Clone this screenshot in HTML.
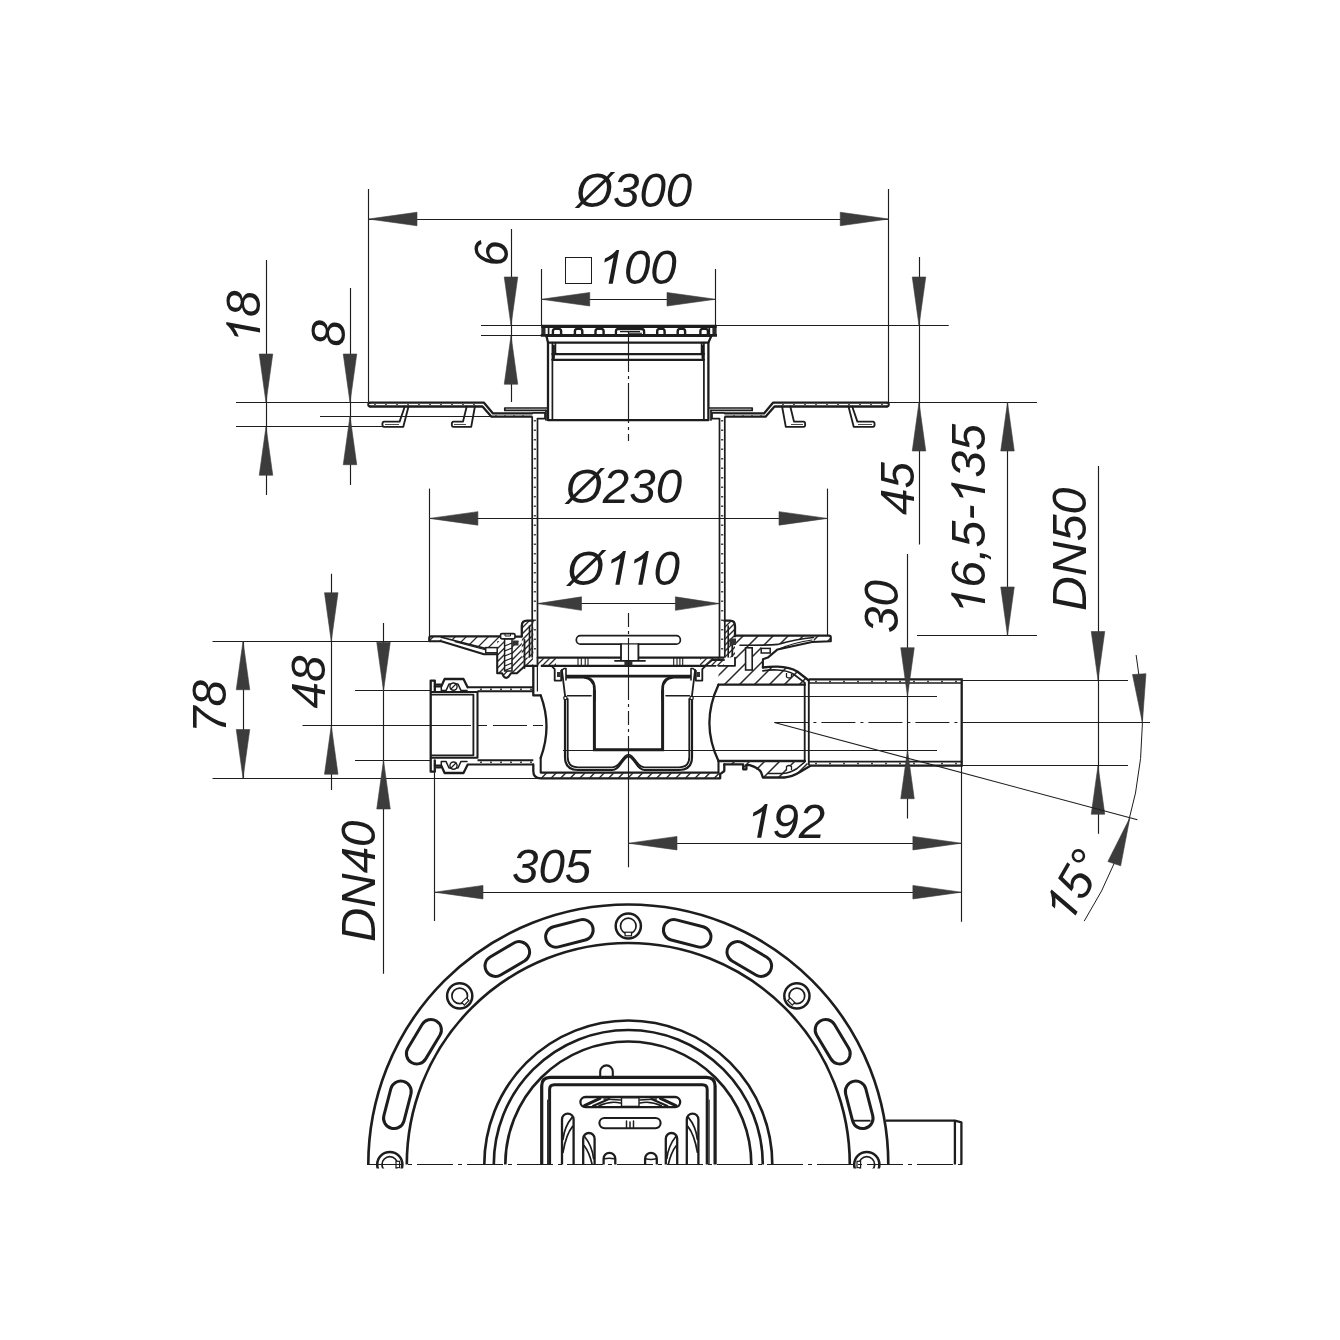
<!DOCTYPE html>
<html><head><meta charset="utf-8"><title>Drain drawing</title>
<style>
html,body{margin:0;padding:0;background:#fff;}
body{width:1340px;height:1340px;overflow:hidden;}
svg{display:block;font-family:"Liberation Sans",sans-serif;}
</style></head><body>
<svg width="1340" height="1340" viewBox="0 0 1340 1340">
<rect width="1340" height="1340" fill="#fff"/>
<path d="M552.9,335 V331.2 Q552.9,328.9 555.2,328.9 H558.8 Q561.1,328.9 561.1,331.2 V335" stroke="#1d1d1d" stroke-width="2.42" fill="none" stroke-linejoin="round" stroke-linecap="butt" />
<path d="M574.9,335 V331.2 Q574.9,328.9 577.2,328.9 H580.0 Q582.3000000000001,328.9 582.3000000000001,331.2 V335" stroke="#1d1d1d" stroke-width="2.42" fill="none" stroke-linejoin="round" stroke-linecap="butt" />
<path d="M595.5,335 V331.2 Q595.5,328.9 597.8000000000001,328.9 H601.3 Q603.6,328.9 603.6,331.2 V335" stroke="#1d1d1d" stroke-width="2.42" fill="none" stroke-linejoin="round" stroke-linecap="butt" />
<path d="M657.1999999999999,335 V331.2 Q657.1999999999999,328.9 659.5,328.9 H662.3 Q664.6,328.9 664.6,331.2 V335" stroke="#1d1d1d" stroke-width="2.42" fill="none" stroke-linejoin="round" stroke-linecap="butt" />
<path d="M677.6999999999999,335 V331.2 Q677.6999999999999,328.9 680.0,328.9 H682.8 Q685.1,328.9 685.1,331.2 V335" stroke="#1d1d1d" stroke-width="2.42" fill="none" stroke-linejoin="round" stroke-linecap="butt" />
<path d="M700.4,335 V331.2 Q700.4,328.9 702.7,328.9 H705.5999999999999 Q707.9,328.9 707.9,331.2 V335" stroke="#1d1d1d" stroke-width="2.42" fill="none" stroke-linejoin="round" stroke-linecap="butt" />
<path d="M615.9,335 V331.4 Q615.9,329 618.4,329 H641.6 Q644.1,329 644.1,331.4 V335" stroke="#1d1d1d" stroke-width="2.3" fill="none" stroke-linejoin="round" stroke-linecap="butt" />
<path d="M620,331.6 H640 M629,333.2 H642" stroke="#1d1d1d" stroke-width="1.1" fill="none" stroke-linejoin="round" stroke-linecap="butt" />
<rect x="541.3" y="326" width="4.2" height="9.5" fill="#2b2b2b"/>
<rect x="712.4" y="326" width="4.2" height="9.5" fill="#2b2b2b"/>
<path d="M548.6,327 V335 M709.3,327 V335" stroke="#1d1d1d" stroke-width="1.72" fill="none" stroke-linejoin="round" stroke-linecap="butt" />
<path d="M541.3,326.4 H716.6" stroke="#1d1d1d" stroke-width="3.33" fill="none" stroke-linejoin="round" stroke-linecap="butt" />
<path d="M540.8,335.3 H717" stroke="#1d1d1d" stroke-width="2.76" fill="none" stroke-linejoin="round" stroke-linecap="butt" />
<path d="M546.4,336 H711.3" stroke="#1d1d1d" stroke-width="1.84" fill="none" stroke-linejoin="round" stroke-linecap="round" />
<path d="M546.4,336 L548,342.6 V420.2 H708.4 V342.6 L711.3,336" stroke="#1d1d1d" stroke-width="2.3" fill="none" stroke-linejoin="round" stroke-linecap="round" />
<path d="M548,342.6 H708.4" stroke="#1d1d1d" stroke-width="2.3" fill="none" stroke-linejoin="round" stroke-linecap="round" />
<path d="M552.4,342.6 V420.2 M703.9,342.6 V420.2" stroke="#1d1d1d" stroke-width="1.72" fill="none" stroke-linejoin="round" stroke-linecap="round" />
<path d="M552.4,354.1 H703.9 M552.4,359.8 H703.9" stroke="#1d1d1d" stroke-width="2.3" fill="none" stroke-linejoin="round" stroke-linecap="round" />
<path d="M555.4,343.5 V352 Q555.4,354.1 557,354.1 M701.6,343.5 V352 Q701.6,354.1 700,354.1" stroke="#1d1d1d" stroke-width="1.72" fill="none" stroke-linejoin="round" stroke-linecap="round" />
<path d="M553.6,346 V358 M702.8,346 V358" stroke="#1d1d1d" stroke-width="2.53" fill="none" stroke-linejoin="round" stroke-linecap="round" />
<path d="M370.0,402.7 H484.0 L493.0,413.4 H532.0" stroke="#1d1d1d" stroke-width="2.3" fill="none" stroke-linejoin="round" stroke-linecap="round" />
<path d="M370.0,406.5 H482.5 L491.5,416.7 H531.6" stroke="#1d1d1d" stroke-width="2.3" fill="none" stroke-linejoin="round" stroke-linecap="round" />
<path d="M370.0,402.7 Q368.2,402.7 368.2,404.6 Q368.2,406.5 370.0,406.5" stroke="#1d1d1d" stroke-width="1.95" fill="none" stroke-linejoin="round" stroke-linecap="round" />
<line x1="374" y1="404.5" x2="482" y2="404.5" stroke="#555" stroke-width="1.2" stroke-dasharray="2 9" stroke-linecap="butt"/>
<line x1="495" y1="415.5" x2="530" y2="415.5" stroke="#555" stroke-width="1.2" stroke-dasharray="2 7" stroke-linecap="butt"/>
<path d="M404.8,406.5 L399.6,421.6 H384.0 Q382.4,421.6 382.4,424.2 Q382.4,426.8 384.0,426.8 H403.3 L408.5,406.5" stroke="#1d1d1d" stroke-width="1.84" fill="none" stroke-linejoin="round" stroke-linecap="round" />
<path d="M466.7,406.5 L463.0,421.6 H453.4 Q451.8,421.6 451.8,424.2 Q451.8,426.8 453.4,426.8 H471.2 L474.9,406.5" stroke="#1d1d1d" stroke-width="1.84" fill="none" stroke-linejoin="round" stroke-linecap="round" />
<line x1="385" y1="424.5" x2="399" y2="424.5" stroke="#1d1d1d" stroke-width="0.8" stroke-linecap="butt"/>
<line x1="454" y1="424.5" x2="466" y2="424.5" stroke="#1d1d1d" stroke-width="0.8" stroke-linecap="butt"/>
<path d="M548.0,408 H504.8 V410.4 H546.0" stroke="#1d1d1d" stroke-width="1.72" fill="none" stroke-linejoin="round" stroke-linecap="round" />
<path d="M533.0,412.8 H545.0 V418.6 H537.5" stroke="#1d1d1d" stroke-width="1.72" fill="none" stroke-linejoin="round" stroke-linecap="round" />
<path d="M546.0,410.4 V420" stroke="#1d1d1d" stroke-width="1.72" fill="none" stroke-linejoin="round" stroke-linecap="round" />
<path d="M532.2,416.7 V657.6" stroke="#1d1d1d" stroke-width="1.72" fill="none" stroke-linejoin="round" stroke-linecap="butt" />
<path d="M537.5,418.6 V657.6" stroke="#1d1d1d" stroke-width="1.72" fill="none" stroke-linejoin="round" stroke-linecap="butt" />
<line x1="534.85" y1="420" x2="534.85" y2="657" stroke="#444" stroke-width="2.2" stroke-dasharray="1.5 8" stroke-linecap="butt"/>
<path d="M887.0,402.7 H773.0 L764.0,413.4 H725.0" stroke="#1d1d1d" stroke-width="2.3" fill="none" stroke-linejoin="round" stroke-linecap="round" />
<path d="M887.0,406.5 H774.5 L765.5,416.7 H725.4" stroke="#1d1d1d" stroke-width="2.3" fill="none" stroke-linejoin="round" stroke-linecap="round" />
<path d="M887.0,402.7 Q888.8,402.7 888.8,404.6 Q888.8,406.5 887.0,406.5" stroke="#1d1d1d" stroke-width="1.95" fill="none" stroke-linejoin="round" stroke-linecap="round" />
<line x1="883.0" y1="404.5" x2="775.0" y2="404.5" stroke="#555" stroke-width="1.2" stroke-dasharray="2 9" stroke-linecap="butt"/>
<line x1="762.0" y1="415.5" x2="727.0" y2="415.5" stroke="#555" stroke-width="1.2" stroke-dasharray="2 7" stroke-linecap="butt"/>
<path d="M852.2,406.5 L857.4,421.6 H873.0 Q874.6,421.6 874.6,424.2 Q874.6,426.8 873.0,426.8 H853.7 L848.5,406.5" stroke="#1d1d1d" stroke-width="1.84" fill="none" stroke-linejoin="round" stroke-linecap="round" />
<path d="M790.3,406.5 L794.0,421.6 H803.6 Q805.2,421.6 805.2,424.2 Q805.2,426.8 803.6,426.8 H785.8 L782.1,406.5" stroke="#1d1d1d" stroke-width="1.84" fill="none" stroke-linejoin="round" stroke-linecap="round" />
<line x1="872.0" y1="424.5" x2="858.0" y2="424.5" stroke="#1d1d1d" stroke-width="0.8" stroke-linecap="butt"/>
<line x1="803.0" y1="424.5" x2="791.0" y2="424.5" stroke="#1d1d1d" stroke-width="0.8" stroke-linecap="butt"/>
<path d="M709.0,408 H752.2 V410.4 H711.0" stroke="#1d1d1d" stroke-width="1.72" fill="none" stroke-linejoin="round" stroke-linecap="round" />
<path d="M724.0,412.8 H712.0 V418.6 H719.5" stroke="#1d1d1d" stroke-width="1.72" fill="none" stroke-linejoin="round" stroke-linecap="round" />
<path d="M711.0,410.4 V420" stroke="#1d1d1d" stroke-width="1.72" fill="none" stroke-linejoin="round" stroke-linecap="round" />
<path d="M724.8,416.7 V657.6" stroke="#1d1d1d" stroke-width="1.72" fill="none" stroke-linejoin="round" stroke-linecap="butt" />
<path d="M719.5,418.6 V657.6" stroke="#1d1d1d" stroke-width="1.72" fill="none" stroke-linejoin="round" stroke-linecap="butt" />
<line x1="722.15" y1="420" x2="722.15" y2="657" stroke="#444" stroke-width="2.2" stroke-dasharray="1.5 8" stroke-linecap="butt"/>
<path d="M368.29999999999995,1164.5 A260,260 0 0 1 888.3,1164.5" stroke="#1d1d1d" stroke-width="2.64" fill="none" stroke-linejoin="round" stroke-linecap="butt" />
<path d="M406.79999999999995,1164.5 A221.5,221.5 0 0 1 849.8,1164.5" stroke="#1d1d1d" stroke-width="2.64" fill="none" stroke-linejoin="round" stroke-linecap="butt" />
<path d="M484.29999999999995,1164.5 A144,144 0 0 1 772.3,1164.5" stroke="#1d1d1d" stroke-width="2.64" fill="none" stroke-linejoin="round" stroke-linecap="butt" />
<path d="M493.79999999999995,1164.5 A134.5,134.5 0 0 1 762.8,1164.5" stroke="#1d1d1d" stroke-width="2.64" fill="none" stroke-linejoin="round" stroke-linecap="butt" />
<path d="M505.29999999999995,1164.5 A123,123 0 0 1 751.3,1164.5" stroke="#1d1d1d" stroke-width="2.64" fill="none" stroke-linejoin="round" stroke-linecap="butt" />
<rect x="-24.2" y="-10.4" width="48.4" height="20.8" rx="10.4" ry="10.4" fill="none" stroke="#1d1d1d" stroke-width="3.0" transform="translate(397.4 1104.8) rotate(-75.5)"/>
<rect x="-24.2" y="-10.4" width="48.4" height="20.8" rx="10.4" ry="10.4" fill="none" stroke="#1d1d1d" stroke-width="3.0" transform="translate(423.9 1041.7) rotate(-59)"/>
<rect x="-24.2" y="-10.4" width="48.4" height="20.8" rx="10.4" ry="10.4" fill="none" stroke="#1d1d1d" stroke-width="3.0" transform="translate(507.3 959.0) rotate(-30.5)"/>
<rect x="-24.2" y="-10.4" width="48.4" height="20.8" rx="10.4" ry="10.4" fill="none" stroke="#1d1d1d" stroke-width="3.0" transform="translate(569.4 933.4) rotate(-14.3)"/>
<rect x="-24.2" y="-10.4" width="48.4" height="20.8" rx="10.4" ry="10.4" fill="none" stroke="#1d1d1d" stroke-width="3.0" transform="translate(687.2 933.4) rotate(14.3)"/>
<rect x="-24.2" y="-10.4" width="48.4" height="20.8" rx="10.4" ry="10.4" fill="none" stroke="#1d1d1d" stroke-width="3.0" transform="translate(749.3 959.0) rotate(30.5)"/>
<rect x="-24.2" y="-10.4" width="48.4" height="20.8" rx="10.4" ry="10.4" fill="none" stroke="#1d1d1d" stroke-width="3.0" transform="translate(832.7 1041.7) rotate(59)"/>
<rect x="-24.2" y="-10.4" width="48.4" height="20.8" rx="10.4" ry="10.4" fill="none" stroke="#1d1d1d" stroke-width="3.0" transform="translate(859.2 1104.8) rotate(75.5)"/>
<clipPath id="cpTop"><rect x="0" y="0" width="1340" height="1168.5"/></clipPath>
<g clip-path="url(#cpTop)"><circle cx="389.8" cy="1164.5" r="12.6" fill="none" stroke="#1d1d1d" stroke-width="2.5"/><circle cx="389.8" cy="1164.5" r="7.8" fill="none" stroke="#1d1d1d" stroke-width="1.7"/><rect x="-3.2" y="6.2" width="6.4" height="3.6" fill="#fff" stroke="#1d1d1d" stroke-width="1.2" transform="translate(389.8 1164.5) rotate(-90)"/></g>
<g clip-path="url(#cpTop)"><circle cx="459.7" cy="995.9" r="12.6" fill="none" stroke="#1d1d1d" stroke-width="2.5"/><circle cx="459.7" cy="995.9" r="7.8" fill="none" stroke="#1d1d1d" stroke-width="1.7"/><rect x="-3.2" y="6.2" width="6.4" height="3.6" fill="#fff" stroke="#1d1d1d" stroke-width="1.2" transform="translate(459.7 995.9) rotate(-45)"/></g>
<g clip-path="url(#cpTop)"><circle cx="628.3" cy="926.0" r="12.6" fill="none" stroke="#1d1d1d" stroke-width="2.5"/><circle cx="628.3" cy="926.0" r="7.8" fill="none" stroke="#1d1d1d" stroke-width="1.7"/><rect x="-3.2" y="6.2" width="6.4" height="3.6" fill="#fff" stroke="#1d1d1d" stroke-width="1.2" transform="translate(628.3 926.0) rotate(0)"/></g>
<g clip-path="url(#cpTop)"><circle cx="796.9" cy="995.9" r="12.6" fill="none" stroke="#1d1d1d" stroke-width="2.5"/><circle cx="796.9" cy="995.9" r="7.8" fill="none" stroke="#1d1d1d" stroke-width="1.7"/><rect x="-3.2" y="6.2" width="6.4" height="3.6" fill="#fff" stroke="#1d1d1d" stroke-width="1.2" transform="translate(796.9 995.9) rotate(45)"/></g>
<g clip-path="url(#cpTop)"><circle cx="866.8" cy="1164.5" r="12.6" fill="none" stroke="#1d1d1d" stroke-width="2.5"/><circle cx="866.8" cy="1164.5" r="7.8" fill="none" stroke="#1d1d1d" stroke-width="1.7"/><rect x="-3.2" y="6.2" width="6.4" height="3.6" fill="#fff" stroke="#1d1d1d" stroke-width="1.2" transform="translate(866.8 1164.5) rotate(90)"/></g>
<path d="M886,1120.7 H954.9 L961.4,1122.3 V1164.5 M954.9,1120.7 V1164.5" stroke="#1d1d1d" stroke-width="2.3" fill="none" stroke-linejoin="round" stroke-linecap="butt" />
<path d="M852,1120.7 H870.5" stroke="#1d1d1d" stroke-width="1.84" fill="none" stroke-linejoin="round" stroke-linecap="butt" />
<path d="M541.7,1164.5 V1086 Q541.7,1077.4 550.3,1077.4 H706.5 Q715.1,1077.4 715.1,1086 V1164.5" stroke="#1d1d1d" stroke-width="3.22" fill="none" stroke-linejoin="round" stroke-linecap="butt" />
<path d="M549.6,1164.5 V1089.6 Q549.6,1084.8 554.4,1084.8 H702.4 Q707.2,1084.8 707.2,1089.6 V1164.5" stroke="#1d1d1d" stroke-width="2.99" fill="none" stroke-linejoin="round" stroke-linecap="butt" />
<path d="M547.6,1100 V1164.5 M709.2,1100 V1164.5" stroke="#1d1d1d" stroke-width="1" fill="none" stroke-linejoin="round" stroke-linecap="round" />
<path d="M600.2,1076 V1071.7 A6.3,6.3 0 0 1 612.8,1071.7 V1076" stroke="#1d1d1d" stroke-width="2.07" fill="none" stroke-linejoin="round" stroke-linecap="round" />
<clipPath id="cpTop2"><rect x="0" y="0" width="1340" height="1164.5"/></clipPath>
<rect x="580.4" y="1097" width="99.80000000000007" height="10.200000000000045" rx="5.100000000000023" ry="5.100000000000023" fill="none" stroke="#1d1d1d" stroke-width="2.3"/>
<rect x="621.5" y="1097.8" width="17.5" height="8.6" fill="#fff" stroke="#1d1d1d" stroke-width="1.4"/>
<path d="M584.5,1105.6 L600.0,1098.4" stroke="#1d1d1d" stroke-width="2.99" fill="none" stroke-linejoin="round" stroke-linecap="round" />
<path d="M593.0,1106 L609.0,1099" stroke="#1d1d1d" stroke-width="2.18" fill="none" stroke-linejoin="round" stroke-linecap="round" />
<path d="M599.0,1105.8 Q610.0,1100.5 620.5,1103 M604.0,1099 Q612.0,1099.5 620.5,1100" stroke="#1d1d1d" stroke-width="1.61" fill="none" stroke-linejoin="round" stroke-linecap="round" />
<path d="M675.9,1105.6 L660.4,1098.4" stroke="#1d1d1d" stroke-width="2.99" fill="none" stroke-linejoin="round" stroke-linecap="round" />
<path d="M667.4,1106 L651.4,1099" stroke="#1d1d1d" stroke-width="2.18" fill="none" stroke-linejoin="round" stroke-linecap="round" />
<path d="M661.4,1105.8 Q650.4,1100.5 639.9,1103 M656.4,1099 Q648.4,1099.5 639.9,1100" stroke="#1d1d1d" stroke-width="1.61" fill="none" stroke-linejoin="round" stroke-linecap="round" />
<rect x="599.4" y="1118" width="61.200000000000045" height="10.200000000000045" rx="5.100000000000023" ry="5.100000000000023" fill="none" stroke="#1d1d1d" stroke-width="2.1"/>
<path d="M626.5,1121 V1127.5 M633.5,1121 V1127.5 M630,1122 V1127.5" stroke="#1d1d1d" stroke-width="1.49" fill="none" stroke-linejoin="round" stroke-linecap="round" />
<path d="M562,1164.5 V1119.3999999999999 A5.800000000000011,5.800000000000011 0 0 1 573.6,1119.3999999999999 V1164.5" stroke="#1d1d1d" stroke-width="2.3" fill="none" stroke-linejoin="round" stroke-linecap="butt" />
<path d="M563,1139.3999999999999 Q564.5,1126.3999999999999 572.1,1117.3999999999999 M563,1152.3999999999999 Q566,1134.3999999999999 572.6,1126.3999999999999" stroke="#1d1d1d" stroke-width="1.72" fill="none" stroke-linejoin="round" stroke-linecap="round" clip-path="url(#cpTop2)"/>
<path d="M686.8000000000001,1164.5 V1119.3999999999999 A5.800000000000011,5.800000000000011 0 0 1 698.4000000000001,1119.3999999999999 V1164.5" stroke="#1d1d1d" stroke-width="2.3" fill="none" stroke-linejoin="round" stroke-linecap="butt" />
<path d="M697.4000000000001,1139.3999999999999 Q695.9000000000001,1126.3999999999999 688.3000000000001,1117.3999999999999 M697.4000000000001,1152.3999999999999 Q694.4000000000001,1134.3999999999999 687.8000000000001,1126.3999999999999" stroke="#1d1d1d" stroke-width="1.72" fill="none" stroke-linejoin="round" stroke-linecap="round" clip-path="url(#cpTop2)"/>
<path d="M583.2,1164.5 V1138.7 A5.699999999999989,5.699999999999989 0 0 1 594.6,1138.7 V1164.5" stroke="#1d1d1d" stroke-width="2.3" fill="none" stroke-linejoin="round" stroke-linecap="butt" />
<path d="M593.6,1158.7 Q592.1,1145.7 584.7,1136.7 M593.6,1171.7 Q590.6,1153.7 584.2,1145.7" stroke="#1d1d1d" stroke-width="1.72" fill="none" stroke-linejoin="round" stroke-linecap="round" clip-path="url(#cpTop2)"/>
<path d="M665.8000000000001,1164.5 V1138.7 A5.699999999999989,5.699999999999989 0 0 1 677.2,1138.7 V1164.5" stroke="#1d1d1d" stroke-width="2.3" fill="none" stroke-linejoin="round" stroke-linecap="butt" />
<path d="M666.8000000000001,1158.7 Q668.3000000000001,1145.7 675.7,1136.7 M666.8000000000001,1171.7 Q669.8000000000001,1153.7 676.2,1145.7" stroke="#1d1d1d" stroke-width="1.72" fill="none" stroke-linejoin="round" stroke-linecap="round" clip-path="url(#cpTop2)"/>
<path d="M603.6,1164.5 V1158.6499999999999 A5.849999999999966,5.849999999999966 0 0 1 615.3,1158.6499999999999 V1164.5" stroke="#1d1d1d" stroke-width="2.3" fill="none" stroke-linejoin="round" stroke-linecap="butt" />
<path d="M645.1000000000001,1164.5 V1158.6499999999999 A5.849999999999966,5.849999999999966 0 0 1 656.8000000000001,1158.6499999999999 V1164.5" stroke="#1d1d1d" stroke-width="2.3" fill="none" stroke-linejoin="round" stroke-linecap="butt" />
<path d="M604.5,1158.8 Q609,1157.5 614.5,1158.8 M645.5,1158.8 Q651,1160 656,1158.8" stroke="#1d1d1d" stroke-width="1.49" fill="none" stroke-linejoin="round" stroke-linecap="round" />
<clipPath id="hc1"><path d="M533.3,620.7 H527 Q521.8,620.7 521.8,626 V657.6 H533.3 Z"/></clipPath>
<path d="M478.0,660.0 L520.0,618.0 M484.0,660.0 L526.0,618.0 M490.0,660.0 L532.0,618.0 M496.0,660.0 L538.0,618.0 M502.0,660.0 L544.0,618.0 M508.0,660.0 L550.0,618.0 M514.0,660.0 L556.0,618.0 M520.0,660.0 L562.0,618.0 M526.0,660.0 L568.0,618.0 M532.0,660.0 L574.0,618.0" stroke="#2a2a2a" stroke-width="1.3" fill="none" clip-path="url(#hc1)"/>
<path d="M533.3,620.7 H527 Q521.8,620.7 521.8,626 V636.3" stroke="#1d1d1d" stroke-width="2.3" fill="none" stroke-linejoin="round" stroke-linecap="round" />
<path d="M524.5,640 V668" stroke="#1d1d1d" stroke-width="1.84" fill="none" stroke-linejoin="round" stroke-linecap="round" />
<path d="M529.5,626 V657" stroke="#1d1d1d" stroke-width="1.61" fill="none" stroke-linejoin="round" stroke-linecap="round" />
<clipPath id="hc2"><path d="M429.2,636.4 H500.5 V641 H497.2 V647.6 H485.7 L486,648.6 L441.3,637.3 L441.3,641.2 H429.2 Z"/></clipPath>
<path d="M403.0,656.0 L425.0,634.0 M414.0,656.0 L436.0,634.0 M425.0,656.0 L447.0,634.0 M436.0,656.0 L458.0,634.0 M447.0,656.0 L469.0,634.0 M458.0,656.0 L480.0,634.0 M469.0,656.0 L491.0,634.0 M480.0,656.0 L502.0,634.0 M491.0,656.0 L513.0,634.0 M502.0,656.0 L524.0,634.0" stroke="#2a2a2a" stroke-width="1.3" fill="none" clip-path="url(#hc2)"/>
<path d="M500.5,636.4 H431 Q429.2,636.4 429.2,638.2 V641.2 H441.3 L484,654.3 H497.2" stroke="#1d1d1d" stroke-width="2.07" fill="none" stroke-linejoin="round" stroke-linecap="round" />
<path d="M441.3,637.3 L486,648.6" stroke="#1d1d1d" stroke-width="1.61" fill="none" stroke-linejoin="round" stroke-linecap="round" />
<path d="M455,641.6 L492,651.5" stroke="#1d1d1d" stroke-width="1.2" fill="none" stroke-linejoin="round" stroke-linecap="round" />
<rect x="485.7" y="647.6" width="11.5" height="5.2" fill="#fff" stroke="#1d1d1d" stroke-width="1.5"/>
<clipPath id="hc3"><path d="M497.2,641 H521.8 V657.6 H533 V665.8 H525.1 L516.9,673.2 H511.1 L508.7,676.5 H503.7 L502.1,673.2 H497.2 Z"/></clipPath>
<path d="M455.0,678.0 L495.0,638.0 M461.5,678.0 L501.5,638.0 M468.0,678.0 L508.0,638.0 M474.5,678.0 L514.5,638.0 M481.0,678.0 L521.0,638.0 M487.5,678.0 L527.5,638.0 M494.0,678.0 L534.0,638.0 M500.5,678.0 L540.5,638.0 M507.0,678.0 L547.0,638.0 M513.5,678.0 L553.5,638.0 M520.0,678.0 L560.0,638.0 M526.5,678.0 L566.5,638.0 M533.0,678.0 L573.0,638.0" stroke="#2a2a2a" stroke-width="1.3" fill="none" clip-path="url(#hc3)"/>
<path d="M497.2,654.3 V673.2 H502.1 L503.7,676.5 Q506.2,679.2 508.7,676.5 L511.1,673.2 H516.9 L525.1,665.8" stroke="#1d1d1d" stroke-width="2.07" fill="none" stroke-linejoin="round" stroke-linecap="round" />
<path d="M515,636.6 H521.8" stroke="#1d1d1d" stroke-width="2.07" fill="none" stroke-linejoin="round" stroke-linecap="round" />
<rect x="504.6" y="638.5" width="7.4" height="32.5" fill="#fff" stroke="#1d1d1d" stroke-width="1.5"/>
<rect x="500.5" y="633.6" width="14.5" height="5.2" rx="1.5" fill="#fff" stroke="#1d1d1d" stroke-width="1.7"/>
<path d="M505,633.8 V636 H510.5 V633.8" stroke="#1d1d1d" stroke-width="1.0" fill="none" stroke-linejoin="round" stroke-linecap="round" />
<path d="M504.6,646 l7.4,-3 M504.6,651 l7.4,-3 M504.6,656 l7.4,-3 M504.6,661 l7.4,-3 M504.6,666 l7.4,-3 M504.6,670.5 l7.4,-3" stroke="#1d1d1d" stroke-width="1.1" fill="none" stroke-linejoin="round" stroke-linecap="round" />
<rect x="512.5" y="640.5" width="6" height="5" fill="#333"/>
<clipPath id="hc4"><path d="M724.3,620.7 H730 Q735,620.7 735,626 V657.6 H724.3 Z"/></clipPath>
<path d="M680.0,660.0 L722.0,618.0 M686.0,660.0 L728.0,618.0 M692.0,660.0 L734.0,618.0 M698.0,660.0 L740.0,618.0 M704.0,660.0 L746.0,618.0 M710.0,660.0 L752.0,618.0 M716.0,660.0 L758.0,618.0 M722.0,660.0 L764.0,618.0 M728.0,660.0 L770.0,618.0 M734.0,660.0 L776.0,618.0" stroke="#2a2a2a" stroke-width="1.3" fill="none" clip-path="url(#hc4)"/>
<path d="M724.3,620.7 H730 Q735,620.7 735,626 V636.3" stroke="#1d1d1d" stroke-width="2.3" fill="none" stroke-linejoin="round" stroke-linecap="round" />
<path d="M728.2,626 V657" stroke="#1d1d1d" stroke-width="1.61" fill="none" stroke-linejoin="round" stroke-linecap="round" />
<path d="M732.3,640 V656" stroke="#1d1d1d" stroke-width="1.84" fill="none" stroke-linejoin="round" stroke-linecap="round" />
<clipPath id="hc5"><path d="M735,635.6 H829 Q830.8,635.6 830.8,637.4 V641.2 L813.8,641.6 L813.5,637.5 Q796,639.2 777.7,644.4 Q768,645.4 761.2,645.3 V653 H767 L762.9,659.3 V667.5 Q770,666.4 777.6,666.6 Q790,667 797.3,671.5 L808.8,680.5 V684.7 H718.5 V665.8 H735 Z"/></clipPath>
<path d="M662.0,687.0 L716.0,633.0 M677.0,687.0 L731.0,633.0 M692.0,687.0 L746.0,633.0 M707.0,687.0 L761.0,633.0 M722.0,687.0 L776.0,633.0 M737.0,687.0 L791.0,633.0 M752.0,687.0 L806.0,633.0 M767.0,687.0 L821.0,633.0 M782.0,687.0 L836.0,633.0 M797.0,687.0 L851.0,633.0 M812.0,687.0 L866.0,633.0 M827.0,687.0 L881.0,633.0" stroke="#2a2a2a" stroke-width="1.5" fill="none" clip-path="url(#hc5)"/>
<path d="M735,635.6 H829 Q830.8,635.6 830.8,637.4 V641.2 L812,642 L777.6,649.4 L767.8,657.6 L762.9,659.3 V667.5" stroke="#1d1d1d" stroke-width="2.07" fill="none" stroke-linejoin="round" stroke-linecap="round" />
<path d="M813.5,637.5 Q796,639.2 777.7,644.4 Q768,645.4 740,645.2" stroke="#1d1d1d" stroke-width="1.61" fill="none" stroke-linejoin="round" stroke-linecap="round" />
<path d="M812,640 Q794,642.5 779,649" stroke="#1d1d1d" stroke-width="1.2" fill="none" stroke-linejoin="round" stroke-linecap="round" />
<rect x="761.2" y="648.4" width="9" height="4.6" fill="#fff" stroke="#1d1d1d" stroke-width="1.5"/>
<rect x="745.6" y="647.8" width="6.6" height="22.2" fill="#fff" stroke="#1d1d1d" stroke-width="1.6"/>
<rect x="729.5" y="638.5" width="6.5" height="6.5" fill="#333"/>
<path d="M762.9,667.5 Q770,666.4 777.6,666.6 Q790,667 797.3,671.5 L808.8,680.5" stroke="#1d1d1d" stroke-width="2.3" fill="none" stroke-linejoin="round" stroke-linecap="round" />
<path d="M762.9,670.8 Q770,669.6 777.6,670 Q788,670.5 794,674.5 L804.7,682.6" stroke="#1d1d1d" stroke-width="1.72" fill="none" stroke-linejoin="round" stroke-linecap="round" />
<path d="M786.5,673 V677 Q789,679 791.5,677 V673.5" fill="#fff" stroke="#1d1d1d" stroke-width="1.3"/>
<path d="M537.5,657.6 H724.3 M525.1,665.8 H537.5 M541,665.8 H705.4" stroke="#1d1d1d" stroke-width="2.3" fill="none" stroke-linejoin="round" stroke-linecap="butt" />
<path d="M537.5,657.6 V665.8" stroke="#1d1d1d" stroke-width="1.84" fill="none" stroke-linejoin="round" stroke-linecap="round" />
<path d="M578,657.6 V665.8 M581.3,657.6 V665.8 M585.2,657.6 V665.8 M588,657.6 V665.8 M673.7,657.6 V665.8 M677,657.6 V665.8 M679.9,657.6 V665.8 M682.7,657.6 V665.8" stroke="#1d1d1d" stroke-width="1.1" fill="none" stroke-linejoin="round" stroke-linecap="round" />
<path d="M705.4,665.8 L712,660 H724 M718.5,665.8 H735 V657.6" stroke="#1d1d1d" stroke-width="1.84" fill="none" stroke-linejoin="round" stroke-linecap="round" />
<clipPath id="hc6"><path d="M700,657.6 H724 V665.8 H700 Z"/></clipPath>
<path d="M685.0,668.0 L698.0,655.0 M691.0,668.0 L704.0,655.0 M697.0,668.0 L710.0,655.0 M703.0,668.0 L716.0,655.0 M709.0,668.0 L722.0,655.0 M715.0,668.0 L728.0,655.0 M721.0,668.0 L734.0,655.0 M727.0,668.0 L740.0,655.0" stroke="#2a2a2a" stroke-width="1.3" fill="none" clip-path="url(#hc6)"/>
<clipPath id="hc7"><path d="M537.5,657.6 H556 V665.8 H537.5 Z"/></clipPath>
<path d="M522.0,668.0 L535.0,655.0 M528.0,668.0 L541.0,655.0 M534.0,668.0 L547.0,655.0 M540.0,668.0 L553.0,655.0 M546.0,668.0 L559.0,655.0 M552.0,668.0 L565.0,655.0 M558.0,668.0 L571.0,655.0" stroke="#2a2a2a" stroke-width="1.3" fill="none" clip-path="url(#hc7)"/>
<path d="M533.3,665.8 V695.4 H540.7" stroke="#1d1d1d" stroke-width="2.3" fill="none" stroke-linejoin="round" stroke-linecap="round" />
<path d="M537.4,665.8 V691" stroke="#1d1d1d" stroke-width="1.2" fill="none" stroke-linejoin="round" stroke-linecap="round" />
<path d="M540.7,695.4 Q552.3,726.5 540.7,757.8" stroke="#1d1d1d" stroke-width="2.3" fill="none" stroke-linejoin="round" stroke-linecap="round" />
<path d="M533.3,764.4 V771 Q533.3,778.3 540.6,778.3 H720.2 V774.2 L724.3,771 V764.4" stroke="#1d1d1d" stroke-width="2.3" fill="none" stroke-linejoin="round" stroke-linecap="round" />
<path d="M540.7,757.8 V772.6 H718.5 V761" stroke="#1d1d1d" stroke-width="2.07" fill="none" stroke-linejoin="round" stroke-linecap="round" />
<clipPath id="hc8"><path d="M540.7,772.6 H720 V778.3 H540.7 Z"/></clipPath>
<path d="M531.0,779.0 L538.0,772.0 M540.6,779.0 L547.6,772.0 M550.2,779.0 L557.2,772.0 M559.8,779.0 L566.8,772.0 M569.4,779.0 L576.4,772.0 M579.0,779.0 L586.0,772.0 M588.6,779.0 L595.6,772.0 M598.2,779.0 L605.2,772.0 M607.8,779.0 L614.8,772.0 M617.4,779.0 L624.4,772.0 M627.0,779.0 L634.0,772.0 M636.6,779.0 L643.6,772.0 M646.2,779.0 L653.2,772.0 M655.8,779.0 L662.8,772.0 M665.4,779.0 L672.4,772.0 M675.0,779.0 L682.0,772.0 M684.6,779.0 L691.6,772.0 M694.2,779.0 L701.2,772.0 M703.8,779.0 L710.8,772.0 M713.4,779.0 L720.4,772.0" stroke="#2a2a2a" stroke-width="1.4" fill="none" clip-path="url(#hc8)"/>
<path d="M718.5,684.7 Q700.3,723 718.5,761" stroke="#1d1d1d" stroke-width="2.3" fill="none" stroke-linejoin="round" stroke-linecap="round" />
<path d="M718.5,684.7 H805" stroke="#1d1d1d" stroke-width="2.3" fill="none" stroke-linejoin="round" stroke-linecap="round" />
<path d="M718.5,761 H805" stroke="#1d1d1d" stroke-width="2.3" fill="none" stroke-linejoin="round" stroke-linecap="round" />
<path d="M467.6,687.2 H533.3 M477.5,691.3 H533.3 M477.5,760.2 H533.3 M467.6,764.4 H533.3" stroke="#1d1d1d" stroke-width="1.95" fill="none" stroke-linejoin="round" stroke-linecap="butt" />
<line x1="480" y1="689.3" x2="532" y2="689.3" stroke="#444" stroke-width="1.4" stroke-dasharray="2 8" stroke-linecap="butt"/>
<line x1="480" y1="762.3" x2="532" y2="762.3" stroke="#444" stroke-width="1.4" stroke-dasharray="2 8" stroke-linecap="butt"/>
<path d="M430.7,680.6 V771.7 M430.7,680.6 H434.8 V691 M434.8,760.4 V771.7 H430.7" stroke="#1d1d1d" stroke-width="2.3" fill="none" stroke-linejoin="round" stroke-linecap="round" />
<path d="M434.8,686.4 H441.3 L444.6,679 H463.5 L467.6,687.2" stroke="#1d1d1d" stroke-width="2.3" fill="none" stroke-linejoin="round" stroke-linecap="round" />
<path d="M434.8,765.6 H441.3 L444.6,773 H463.5 L467.6,764.8" stroke="#1d1d1d" stroke-width="2.3" fill="none" stroke-linejoin="round" stroke-linecap="round" />
<path d="M441.3,686.4 V690.6 H446 L449,684 H458 L461,690.6 H467" stroke="#1d1d1d" stroke-width="1.49" fill="none" stroke-linejoin="round" stroke-linecap="round" />
<path d="M441.3,765.6 V761.4 H446 L449,768 H458 L461,761.4 H467" stroke="#1d1d1d" stroke-width="1.49" fill="none" stroke-linejoin="round" stroke-linecap="round" />
<circle cx="453.5" cy="686.6" r="3.6" fill="#fff" stroke="#1d1d1d" stroke-width="1.4"/>
<circle cx="453.5" cy="765.6" r="3.6" fill="#fff" stroke="#1d1d1d" stroke-width="1.4"/>
<path d="M451,689 l5,-5 M451,768 l5,-5" stroke="#1d1d1d" stroke-width="1.2" fill="none" stroke-linejoin="round" stroke-linecap="round" />
<path d="M436.5,684.5 h4 M436.5,767.5 h4" stroke="#1d1d1d" stroke-width="2.07" fill="none" stroke-linejoin="round" stroke-linecap="round" />
<path d="M431.5,692 H477.5 V757.8 H431.5" stroke="#1d1d1d" stroke-width="2.07" fill="none" stroke-linejoin="round" stroke-linecap="round" />
<path d="M431.5,694.6 H473.4 V755.3 H431.5" stroke="#1d1d1d" stroke-width="1.84" fill="none" stroke-linejoin="round" stroke-linecap="round" />
<path d="M565,699 V757 Q565,770 578,770 H612.5 C620.5,770 622.5,756.3 628.5,756.3 C634.5,756.3 636.5,770 644.5,770 H679.0 Q692.0,770 692.0,757 V699" stroke="#1d1d1d" stroke-width="2.18" fill="none" stroke-linejoin="round" stroke-linecap="round" />
<path d="M567.7,699 V757.0 Q567.7,767.3 578.0,767.3 H612.5 C620.5,767.3 622.5,754.68 628.5,754.68 C634.5,754.68 636.5,767.3 644.5,767.3 H679.0 Q689.3,767.3 689.3,757.0 V699" stroke="#1d1d1d" stroke-width="1.84" fill="none" stroke-linejoin="round" stroke-linecap="round" />
<path d="M561.9,670 L565.2,697 M695.1,670 L691.8,697" stroke="#1d1d1d" stroke-width="1.84" fill="none" stroke-linejoin="round" stroke-linecap="round" />
<circle cx="565.4" cy="698" r="1.7" fill="#fff" stroke="#1d1d1d" stroke-width="1.2"/>
<circle cx="691.6" cy="698" r="1.7" fill="#fff" stroke="#1d1d1d" stroke-width="1.2"/>
<path d="M541.5,665.8 H551.4 L554.7,669.1 V680.6 H561.2 V670.8" stroke="#1d1d1d" stroke-width="1.84" fill="none" stroke-linejoin="round" stroke-linecap="round" />
<path d="M561.2,670.8 L564.0,668.5 H566.0 V680" stroke="#1d1d1d" stroke-width="1.61" fill="none" stroke-linejoin="round" stroke-linecap="round" />
<rect x="557.0" y="672" width="3.5" height="5" fill="#333"/>
<path d="M594.4,700 V689 Q594.4,678 583.4,677.2 H567.5" stroke="#1d1d1d" stroke-width="2.76" fill="none" stroke-linejoin="round" stroke-linecap="round" />
<path d="M567.5,695.8 H591.0" stroke="#1d1d1d" stroke-width="1.61" fill="none" stroke-linejoin="round" stroke-linecap="round" />
<path d="M715.5,665.8 H705.6 L702.3,669.1 V680.6 H695.8 V670.8" stroke="#1d1d1d" stroke-width="1.84" fill="none" stroke-linejoin="round" stroke-linecap="round" />
<path d="M695.8,670.8 L693.0,668.5 H691.0 V680" stroke="#1d1d1d" stroke-width="1.61" fill="none" stroke-linejoin="round" stroke-linecap="round" />
<rect x="696.5" y="672" width="3.5" height="5" fill="#333"/>
<path d="M662.6,700 V689 Q662.6,678 673.6,677.2 H689.5" stroke="#1d1d1d" stroke-width="2.76" fill="none" stroke-linejoin="round" stroke-linecap="round" />
<path d="M689.5,695.8 H666.0" stroke="#1d1d1d" stroke-width="1.61" fill="none" stroke-linejoin="round" stroke-linecap="round" />
<path d="M566,676.2 H691.0" stroke="#1d1d1d" stroke-width="2.76" fill="none" stroke-linejoin="round" stroke-linecap="butt" />
<path d="M594.4,690 V749.8 H662.6 V690" stroke="#1d1d1d" stroke-width="2.99" fill="none" stroke-linejoin="miter" stroke-linecap="butt" />
<rect x="576.3" y="635.7" width="104.1" height="8.4" rx="4.2" fill="#fff" stroke="#1d1d1d" stroke-width="1.7"/>
<rect x="621" y="644.5" width="17.4" height="15.5" fill="#fff"/>
<path d="M621,644.1 V660 M638.4,644.1 V660 M615,660.8 H645" stroke="#1d1d1d" stroke-width="1.84" fill="none" stroke-linejoin="round" stroke-linecap="round" />
<rect x="624.4" y="661" width="8" height="4.6" fill="#2b2b2b"/>
<clipPath id="hc9"><path d="M724.3,761 H805 L810,766 L800,772 Q790,777.5 784.2,777.5 H762.9 L761.2,772.6 L749.7,765.2 H746.4 V769.3 H743.2 V764.4 H724.3 Z"/></clipPath>
<path d="M702.0,779.0 L722.0,759.0 M717.0,779.0 L737.0,759.0 M732.0,779.0 L752.0,759.0 M747.0,779.0 L767.0,759.0 M762.0,779.0 L782.0,759.0 M777.0,779.0 L797.0,759.0 M792.0,779.0 L812.0,759.0 M807.0,779.0 L827.0,759.0" stroke="#2a2a2a" stroke-width="1.5" fill="none" clip-path="url(#hc9)"/>
<path d="M724.3,764.4 H743.2 V769.3 H746.4 V765.2 H749.7 Q759,768 761.2,772.6 L762.9,777.5 H784.2 Q792,777 800,772 L810,766" stroke="#1d1d1d" stroke-width="2.3" fill="none" stroke-linejoin="round" stroke-linecap="round" />
<path d="M768,773.5 H783 Q790,773 797,768.5 L804.7,762" stroke="#1d1d1d" stroke-width="1.61" fill="none" stroke-linejoin="round" stroke-linecap="round" />
<path d="M786.5,770.5 V766.5 Q789,764.5 791.5,766.5 V770" fill="#fff" stroke="#1d1d1d" stroke-width="1.3"/>
<path d="M808.8,679.3 H961.7 V765.7 H808.8" stroke="#1d1d1d" stroke-width="2.3" fill="none" stroke-linejoin="miter" stroke-linecap="butt" />
<path d="M808.8,683 H961 M808.8,761.6 H961" stroke="#1d1d1d" stroke-width="1.72" fill="none" stroke-linejoin="round" stroke-linecap="butt" />
<line x1="815" y1="681.5" x2="958" y2="681.5" stroke="#444" stroke-width="1.3" stroke-dasharray="2 12" stroke-linecap="butt"/>
<line x1="815" y1="763.5" x2="958" y2="763.5" stroke="#444" stroke-width="1.3" stroke-dasharray="2 12" stroke-linecap="butt"/>
<path d="M804.7,682.6 V761.6 M808.8,680.5 V765" stroke="#1d1d1d" stroke-width="1.84" fill="none" stroke-linejoin="round" stroke-linecap="butt" />
<line x1="368.5" y1="189" x2="368.5" y2="402.5" stroke="#1d1d1d" stroke-width="1.15" stroke-linecap="butt"/>
<line x1="888.5" y1="189" x2="888.5" y2="405" stroke="#1d1d1d" stroke-width="1.15" stroke-linecap="butt"/>
<line x1="368.5" y1="219.5" x2="888.75" y2="219.5" stroke="#1d1d1d" stroke-width="1.15" stroke-linecap="butt"/>
<polygon points="368.50,219.00 417.00,212.25 417.00,225.75" fill="#3c3c3c" stroke="#3c3c3c" stroke-width="0.6"/>
<polygon points="888.75,219.00 840.25,225.75 840.25,212.25" fill="#3c3c3c" stroke="#3c3c3c" stroke-width="0.6"/>
<line x1="541.5" y1="269" x2="541.5" y2="326" stroke="#1d1d1d" stroke-width="1.15" stroke-linecap="butt"/>
<line x1="715.5" y1="269" x2="715.5" y2="326" stroke="#1d1d1d" stroke-width="1.15" stroke-linecap="butt"/>
<line x1="541.25" y1="299.5" x2="715.5" y2="299.5" stroke="#1d1d1d" stroke-width="1.15" stroke-linecap="butt"/>
<polygon points="541.25,299.25 589.75,292.50 589.75,306.00" fill="#3c3c3c" stroke="#3c3c3c" stroke-width="0.6"/>
<polygon points="715.50,299.25 667.00,306.00 667.00,292.50" fill="#3c3c3c" stroke="#3c3c3c" stroke-width="0.6"/>
<rect x="565.5" y="257.5" width="26" height="26" fill="none" stroke="#1d1d1d" stroke-width="1"/>
<line x1="511.5" y1="229" x2="511.5" y2="402" stroke="#1d1d1d" stroke-width="1.15" stroke-linecap="butt"/>
<line x1="481" y1="325.5" x2="541" y2="325.5" stroke="#1d1d1d" stroke-width="1.15" stroke-linecap="butt"/>
<line x1="481" y1="335.5" x2="541" y2="335.5" stroke="#1d1d1d" stroke-width="1.15" stroke-linecap="butt"/>
<polygon points="511.00,325.50 504.25,277.00 517.75,277.00" fill="#3c3c3c" stroke="#3c3c3c" stroke-width="0.6"/>
<polygon points="511.00,335.75 517.75,384.25 504.25,384.25" fill="#3c3c3c" stroke="#3c3c3c" stroke-width="0.6"/>
<line x1="266.5" y1="260" x2="266.5" y2="495" stroke="#1d1d1d" stroke-width="1.15" stroke-linecap="butt"/>
<line x1="236" y1="402.5" x2="368" y2="402.5" stroke="#1d1d1d" stroke-width="1.15" stroke-linecap="butt"/>
<line x1="236" y1="426.5" x2="383" y2="426.5" stroke="#1d1d1d" stroke-width="1.15" stroke-linecap="butt"/>
<polygon points="266.00,402.50 259.25,354.00 272.75,354.00" fill="#3c3c3c" stroke="#3c3c3c" stroke-width="0.6"/>
<polygon points="266.00,426.75 272.75,475.25 259.25,475.25" fill="#3c3c3c" stroke="#3c3c3c" stroke-width="0.6"/>
<line x1="350.5" y1="288" x2="350.5" y2="485" stroke="#1d1d1d" stroke-width="1.15" stroke-linecap="butt"/>
<line x1="320" y1="416.5" x2="493" y2="416.5" stroke="#1d1d1d" stroke-width="1.15" stroke-linecap="butt"/>
<polygon points="350.00,402.50 343.25,354.00 356.75,354.00" fill="#3c3c3c" stroke="#3c3c3c" stroke-width="0.6"/>
<polygon points="350.00,416.20 356.75,464.70 343.25,464.70" fill="#3c3c3c" stroke="#3c3c3c" stroke-width="0.6"/>
<line x1="919.5" y1="257" x2="919.5" y2="544.5" stroke="#1d1d1d" stroke-width="1.15" stroke-linecap="butt"/>
<line x1="716" y1="325.5" x2="948.75" y2="325.5" stroke="#1d1d1d" stroke-width="1.15" stroke-linecap="butt"/>
<line x1="889" y1="402.5" x2="1037" y2="402.5" stroke="#1d1d1d" stroke-width="1.15" stroke-linecap="butt"/>
<polygon points="919.00,325.50 912.25,277.00 925.75,277.00" fill="#3c3c3c" stroke="#3c3c3c" stroke-width="0.6"/>
<polygon points="919.00,402.50 925.75,451.00 912.25,451.00" fill="#3c3c3c" stroke="#3c3c3c" stroke-width="0.6"/>
<line x1="1007.5" y1="402.5" x2="1007.5" y2="635.5" stroke="#1d1d1d" stroke-width="1.15" stroke-linecap="butt"/>
<line x1="917" y1="635.5" x2="1037" y2="635.5" stroke="#1d1d1d" stroke-width="1.15" stroke-linecap="butt"/>
<polygon points="1007.50,402.50 1014.25,451.00 1000.75,451.00" fill="#3c3c3c" stroke="#3c3c3c" stroke-width="0.6"/>
<polygon points="1007.50,635.50 1000.75,587.00 1014.25,587.00" fill="#3c3c3c" stroke="#3c3c3c" stroke-width="0.6"/>
<line x1="1098.5" y1="466" x2="1098.5" y2="833.75" stroke="#1d1d1d" stroke-width="1.15" stroke-linecap="butt"/>
<line x1="961" y1="680.5" x2="1128" y2="680.5" stroke="#1d1d1d" stroke-width="1.15" stroke-linecap="butt"/>
<line x1="961" y1="765.5" x2="1128" y2="765.5" stroke="#1d1d1d" stroke-width="1.15" stroke-linecap="butt"/>
<polygon points="1098.00,680.00 1091.25,631.50 1104.75,631.50" fill="#3c3c3c" stroke="#3c3c3c" stroke-width="0.6"/>
<polygon points="1098.00,765.75 1104.75,814.25 1091.25,814.25" fill="#3c3c3c" stroke="#3c3c3c" stroke-width="0.6"/>
<line x1="774.4" y1="722.5" x2="969" y2="722.5" stroke="#1d1d1d" stroke-width="1.15" stroke-dasharray="34 5 3 5" stroke-linecap="butt"/>
<line x1="969" y1="722.5" x2="1150" y2="722.5" stroke="#1d1d1d" stroke-width="1.15" stroke-linecap="butt"/>
<line x1="907.5" y1="554" x2="907.5" y2="818.4" stroke="#1d1d1d" stroke-width="1.15" stroke-linecap="butt"/>
<line x1="690" y1="696.5" x2="937" y2="696.5" stroke="#1d1d1d" stroke-width="1.15" stroke-linecap="butt"/>
<line x1="563" y1="750.5" x2="937" y2="750.5" stroke="#1d1d1d" stroke-width="1.15" stroke-linecap="butt"/>
<polygon points="907.50,696.20 900.75,647.70 914.25,647.70" fill="#3c3c3c" stroke="#3c3c3c" stroke-width="0.6"/>
<polygon points="907.50,750.20 914.25,798.70 900.75,798.70" fill="#3c3c3c" stroke="#3c3c3c" stroke-width="0.6"/>
<line x1="774.4" y1="722.5" x2="1137.4" y2="819.7655568524975" stroke="#1d1d1d" stroke-width="1.15" stroke-linecap="butt"/>
<path d="M1136.2,655.4 A368,368 0 0 1 1084.4,920.8" stroke="#1d1d1d" stroke-width="1" fill="none" stroke-linejoin="round" stroke-linecap="round" />
<polygon points="1142.40,722.50 1132.49,674.55 1145.96,673.66" fill="#3c3c3c" stroke="#3c3c3c" stroke-width="0.6"/>
<polygon points="1129.86,817.75 1120.66,865.84 1107.88,861.50" fill="#3c3c3c" stroke="#3c3c3c" stroke-width="0.6"/>
<line x1="429.5" y1="488.6" x2="429.5" y2="641" stroke="#1d1d1d" stroke-width="1.15" stroke-linecap="butt"/>
<line x1="827.5" y1="488.6" x2="827.5" y2="636" stroke="#1d1d1d" stroke-width="1.15" stroke-linecap="butt"/>
<line x1="429.4" y1="518.5" x2="827.5" y2="518.5" stroke="#1d1d1d" stroke-width="1.15" stroke-linecap="butt"/>
<polygon points="429.40,518.40 477.90,511.65 477.90,525.15" fill="#3c3c3c" stroke="#3c3c3c" stroke-width="0.6"/>
<polygon points="827.50,518.40 779.00,525.15 779.00,511.65" fill="#3c3c3c" stroke="#3c3c3c" stroke-width="0.6"/>
<line x1="537.5" y1="603.5" x2="719.4" y2="603.5" stroke="#1d1d1d" stroke-width="1.15" stroke-linecap="butt"/>
<polygon points="537.50,603.60 581.50,596.85 581.50,610.35" fill="#3c3c3c" stroke="#3c3c3c" stroke-width="0.6"/>
<polygon points="719.40,603.60 675.40,610.35 675.40,596.85" fill="#3c3c3c" stroke="#3c3c3c" stroke-width="0.6"/>
<line x1="243.5" y1="641" x2="243.5" y2="778" stroke="#1d1d1d" stroke-width="1.15" stroke-linecap="butt"/>
<line x1="212.5" y1="641.5" x2="430" y2="641.5" stroke="#1d1d1d" stroke-width="1.15" stroke-linecap="butt"/>
<line x1="212.5" y1="778.5" x2="540" y2="778.5" stroke="#1d1d1d" stroke-width="1.15" stroke-linecap="butt"/>
<polygon points="243.00,641.25 249.75,689.75 236.25,689.75" fill="#3c3c3c" stroke="#3c3c3c" stroke-width="0.6"/>
<polygon points="243.00,778.00 236.25,729.50 249.75,729.50" fill="#3c3c3c" stroke="#3c3c3c" stroke-width="0.6"/>
<line x1="331.5" y1="573.75" x2="331.5" y2="790" stroke="#1d1d1d" stroke-width="1.15" stroke-linecap="butt"/>
<polygon points="331.25,641.25 324.50,592.75 338.00,592.75" fill="#3c3c3c" stroke="#3c3c3c" stroke-width="0.6"/>
<polygon points="331.25,725.75 338.00,774.25 324.50,774.25" fill="#3c3c3c" stroke="#3c3c3c" stroke-width="0.6"/>
<line x1="302.5" y1="725.5" x2="431" y2="725.5" stroke="#1d1d1d" stroke-width="1.15" stroke-linecap="butt"/>
<line x1="431" y1="725.5" x2="546" y2="725.5" stroke="#1d1d1d" stroke-width="1.15" stroke-dasharray="40 6 10 6 34 6 10 6" stroke-linecap="butt"/>
<line x1="383.5" y1="623" x2="383.5" y2="973.75" stroke="#1d1d1d" stroke-width="1.15" stroke-linecap="butt"/>
<line x1="355" y1="690.5" x2="431" y2="690.5" stroke="#1d1d1d" stroke-width="1.15" stroke-linecap="butt"/>
<line x1="355" y1="760.5" x2="431" y2="760.5" stroke="#1d1d1d" stroke-width="1.15" stroke-linecap="butt"/>
<polygon points="383.50,690.75 376.75,642.25 390.25,642.25" fill="#3c3c3c" stroke="#3c3c3c" stroke-width="0.6"/>
<polygon points="383.50,760.50 390.25,809.00 376.75,809.00" fill="#3c3c3c" stroke="#3c3c3c" stroke-width="0.6"/>
<line x1="434.5" y1="772" x2="434.5" y2="921" stroke="#1d1d1d" stroke-width="1.15" stroke-linecap="butt"/>
<line x1="961.5" y1="766" x2="961.5" y2="921.8" stroke="#1d1d1d" stroke-width="1.15" stroke-linecap="butt"/>
<line x1="434.5" y1="892.5" x2="961.4" y2="892.5" stroke="#1d1d1d" stroke-width="1.15" stroke-linecap="butt"/>
<polygon points="434.50,892.20 483.00,885.45 483.00,898.95" fill="#3c3c3c" stroke="#3c3c3c" stroke-width="0.6"/>
<polygon points="961.40,892.20 912.90,898.95 912.90,885.45" fill="#3c3c3c" stroke="#3c3c3c" stroke-width="0.6"/>
<line x1="628.5" y1="780" x2="628.5" y2="867.3" stroke="#1d1d1d" stroke-width="1.15" stroke-linecap="butt"/>
<line x1="628.5" y1="843.5" x2="961.4" y2="843.5" stroke="#1d1d1d" stroke-width="1.15" stroke-linecap="butt"/>
<polygon points="628.50,843.20 677.00,836.45 677.00,849.95" fill="#3c3c3c" stroke="#3c3c3c" stroke-width="0.6"/>
<polygon points="961.40,843.20 912.90,849.95 912.90,836.45" fill="#3c3c3c" stroke="#3c3c3c" stroke-width="0.6"/>
<line x1="628.5" y1="332" x2="628.5" y2="441" stroke="#1d1d1d" stroke-width="1.15" stroke-dasharray="40 4 3 4" stroke-linecap="butt"/>
<line x1="628.5" y1="613" x2="628.5" y2="780" stroke="#1d1d1d" stroke-width="1.15" stroke-dasharray="14 4 3 4 62 4 3 4" stroke-linecap="butt"/>
<line x1="367" y1="1164.5" x2="962" y2="1164.5" stroke="#1d1d1d" stroke-width="1.15" stroke-dasharray="36 5 4 5" stroke-linecap="butt"/>
<g transform="translate(576 207) scale(0.9700 1)" font-size="49" font-style="italic" fill="#1d1d1d"><text x="0.00" y="0">Ø</text><text x="38.11" y="0">3</text><text x="65.37" y="0">0</text><text x="92.62" y="0">0</text></g>
<g transform="translate(597.5 283.75) scale(0.9700 1)" font-size="49" font-style="italic" fill="#1d1d1d"><path d="M763 0H583V1147Q518 1085 412.5 1023T223 930V1104Q374 1175 487 1276T647 1472H763Z" transform="matrix(0.02393 0 0.00444 -0.02290 -2.51 0)"/><text x="27.25" y="0">0</text><text x="54.50" y="0">0</text></g>
<g transform="translate(565.8 502.7) scale(0.9700 1)" font-size="49" font-style="italic" fill="#1d1d1d"><text x="0.00" y="0">Ø</text><text x="38.11" y="0">2</text><text x="65.37" y="0">3</text><text x="92.62" y="0">0</text></g>
<g transform="translate(567.3 584.8) scale(0.9700 1)" font-size="49" font-style="italic" fill="#1d1d1d"><text x="0.00" y="0">Ø</text><path d="M763 0H583V1147Q518 1085 412.5 1023T223 930V1104Q374 1175 487 1276T647 1472H763Z" transform="matrix(0.02393 0 0.00444 -0.02290 35.60 0)"/><path d="M763 0H583V1147Q518 1085 412.5 1023T223 930V1104Q374 1175 487 1276T647 1472H763Z" transform="matrix(0.02393 0 0.00444 -0.02290 59.22 0)"/><text x="88.98" y="0">0</text></g>
<g transform="translate(746 837.7) scale(0.9700 1)" font-size="49" font-style="italic" fill="#1d1d1d"><path d="M763 0H583V1147Q518 1085 412.5 1023T223 930V1104Q374 1175 487 1276T647 1472H763Z" transform="matrix(0.02393 0 0.00444 -0.02290 -2.51 0)"/><text x="27.25" y="0">9</text><text x="54.50" y="0">2</text></g>
<g transform="translate(512 882.5) scale(0.9700 1)" font-size="49" font-style="italic" fill="#1d1d1d"><text x="0.00" y="0">3</text><text x="27.25" y="0">0</text><text x="54.50" y="0">5</text></g>
<g transform="translate(260 343.5) rotate(-90) scale(0.9700 1)" font-size="49" font-style="italic" fill="#1d1d1d"><path d="M763 0H583V1147Q518 1085 412.5 1023T223 930V1104Q374 1175 487 1276T647 1472H763Z" transform="matrix(0.02393 0 0.00444 -0.02290 -2.51 0)"/><text x="27.25" y="0">8</text></g>
<g transform="translate(345 346.5) rotate(-90) scale(0.9700 1)" font-size="49" font-style="italic" fill="#1d1d1d"><text x="0.00" y="0">8</text></g>
<g transform="translate(507.5 266.5) rotate(-90) scale(0.9700 1)" font-size="49" font-style="italic" fill="#1d1d1d"><text x="0.00" y="0">6</text></g>
<g transform="translate(914 515) rotate(-90) scale(0.9700 1)" font-size="49" font-style="italic" fill="#1d1d1d"><text x="0.00" y="0">4</text><text x="27.25" y="0">5</text></g>
<g transform="translate(985 614.5) rotate(-90) scale(0.9850 1)" font-size="49" font-style="italic" fill="#1d1d1d"><path d="M763 0H583V1147Q518 1085 412.5 1023T223 930V1104Q374 1175 487 1276T647 1472H763Z" transform="matrix(0.02393 0 0.00444 -0.02290 -2.51 0)"/><text x="27.25" y="0">6</text><text x="54.50" y="0">,</text><text x="68.12" y="0">5</text><text x="95.37" y="0">-</text><path d="M763 0H583V1147Q518 1085 412.5 1023T223 930V1104Q374 1175 487 1276T647 1472H763Z" transform="matrix(0.02393 0 0.00444 -0.02290 109.17 0)"/><text x="138.94" y="0">3</text><text x="166.19" y="0">5</text></g>
<g transform="translate(1086 611) rotate(-90) scale(0.9850 1)" font-size="49" font-style="italic" fill="#1d1d1d"><text x="0.00" y="0">D</text><text x="35.39" y="0">N</text><text x="70.77" y="0">5</text><text x="98.02" y="0">0</text></g>
<g transform="translate(897.5 633) rotate(-90) scale(0.9700 1)" font-size="49" font-style="italic" fill="#1d1d1d"><text x="0.00" y="0">3</text><text x="27.25" y="0">0</text></g>
<g transform="translate(226 733) rotate(-90) scale(0.9700 1)" font-size="49" font-style="italic" fill="#1d1d1d"><text x="0.00" y="0">7</text><text x="27.25" y="0">8</text></g>
<g transform="translate(325 708.5) rotate(-90) scale(0.9700 1)" font-size="49" font-style="italic" fill="#1d1d1d"><text x="0.00" y="0">4</text><text x="27.25" y="0">8</text></g>
<g transform="translate(375 942) rotate(-90) scale(0.9700 1)" font-size="49" font-style="italic" fill="#1d1d1d"><text x="0.00" y="0">D</text><text x="35.39" y="0">N</text><text x="70.77" y="0">4</text><text x="98.02" y="0">0</text></g>
<g transform="translate(1070 925) rotate(-60) scale(0.9700 1)" font-size="49" font-style="italic" fill="#1d1d1d"><path d="M763 0H583V1147Q518 1085 412.5 1023T223 930V1104Q374 1175 487 1276T647 1472H763Z" transform="matrix(0.02393 0 0.00444 -0.02290 -2.51 0)"/><text x="27.25" y="0">5</text><text x="54.50" y="0">°</text></g>
</svg>
</body></html>
